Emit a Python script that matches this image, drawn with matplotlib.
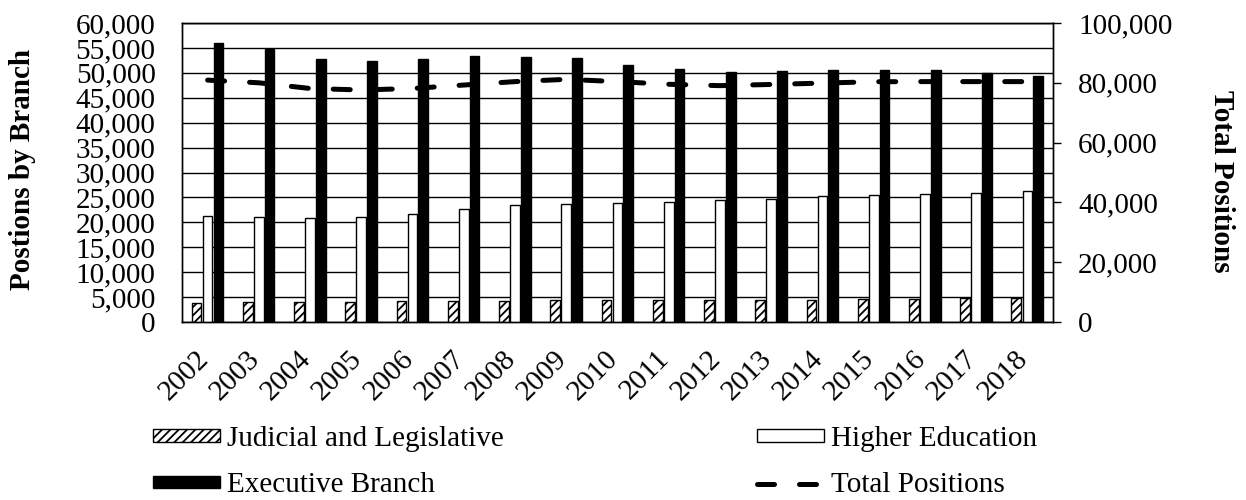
import numpy as np
import matplotlib
matplotlib.use("Agg")
import matplotlib.pyplot as plt
import matplotlib.transforms as mtransforms
from matplotlib.ticker import FuncFormatter, MultipleLocator

years = ['2002', '2003', '2004', '2005', '2006', '2007', '2008', '2009', '2010',
         '2011', '2012', '2013', '2014', '2015', '2016', '2017', '2018']
judicial = [3750, 4000, 4000, 4000, 4150, 4200, 4300, 4400, 4400,
            4400, 4400, 4400, 4400, 4550, 4600, 4800, 4750]
higher_ed = [21300, 21100, 20900, 21100, 21700, 22700, 23500, 23700, 23800,
             24150, 24550, 24600, 25300, 25500, 25600, 25900, 26200]
executive = [55950, 54800, 52850, 52300, 52850, 53400, 53250, 53000, 51650,
             50800, 50250, 50300, 50550, 50550, 50550, 49900, 49450]
total = [80900, 80000, 78100, 77600, 78100, 79250, 80400, 81150, 80400,
         79500, 79050, 79450, 79900, 80350, 80400, 80400, 80400]

plt.rcParams['font.family'] = ['Liberation Serif', 'DejaVu Serif']
plt.rcParams['hatch.linewidth'] = 1.3
fs = 21

fig = plt.figure(figsize=(12.46, 5.0), dpi=100)
ax = fig.add_axes([182 / 1246, 1 - 322 / 500, (1053 - 182) / 1246, (322 - 23) / 500])
ax2 = ax.twinx()

x = np.arange(len(years))
w = 0.19
b1 = ax.bar(x - 0.215, judicial, w, color='white', edgecolor='black', hatch='////',
            linewidth=1.0, label='Judicial and Legislative', zorder=3)
b2 = ax.bar(x, higher_ed, w, color='white', edgecolor='black',
            linewidth=1.0, label='Higher Education', zorder=3)
b3 = ax.bar(x + 0.21, executive, w, color='black', edgecolor='black',
            linewidth=1.0, label='Executive Branch', zorder=3)
ln, = ax2.plot(x, total, color='black', linewidth=3.6, dashes=(3.4, 5),
               dash_capstyle='round', label='Total Positions', zorder=4)

ax.set_xlim(-0.5, len(years) - 0.5)
ax.set_ylim(0, 60000)
ax2.set_ylim(0, 100000)
ax.yaxis.set_major_locator(MultipleLocator(5000))
ax2.yaxis.set_major_locator(MultipleLocator(20000))
fmt = FuncFormatter(lambda v, p: f'{int(v):,}')
ax.yaxis.set_major_formatter(fmt)
ax2.yaxis.set_major_formatter(fmt)
ax.grid(axis='y', color='black', linewidth=1.0, zorder=0)
ax.set_axisbelow(True)

for a in (ax, ax2):
    for s in a.spines.values():
        s.set_linewidth(1.0)
        s.set_color('black')

ax.tick_params(axis='y', length=0, pad=19, labelsize=fs)
ax.tick_params(axis='x', length=0, pad=17, labelsize=fs)
ax2.tick_params(axis='y', length=6, width=1.0, direction='out', pad=12, labelsize=fs)
ax.set_xticks(x)
ax.set_xticklabels(years, rotation=45, ha='right', va='top')
shift = mtransforms.ScaledTranslation(0.06, 0, fig.dpi_scale_trans)
for lab in ax.get_xticklabels():
    lab.set_transform(lab.get_transform() + shift)

fig.text(23 / 1246, 1 - 169 / 500, 'Postions by Branch', rotation=90, fontsize=fs,
         fontweight='bold', ha='center', va='center')
fig.text(1221 / 1246, 1 - 181 / 500, 'Total Positions', rotation=270, fontsize=fs,
         fontweight='bold', ha='center', va='center')

leg = fig.legend([b1, b3, b2, ln],
                 ['Judicial and Legislative', 'Executive Branch', 'Higher Education', 'Total Positions'],
                 ncol=2, loc='upper left', bbox_to_anchor=(153 / 1246, 1 - 426 / 500),
                 frameon=False, fontsize=fs, handlelength=2.3, handleheight=0.3,
                 handletextpad=0.25, columnspacing=8.67, labelspacing=0.7,
                 borderpad=0, borderaxespad=0)

fig.savefig('out.png', dpi=100)
